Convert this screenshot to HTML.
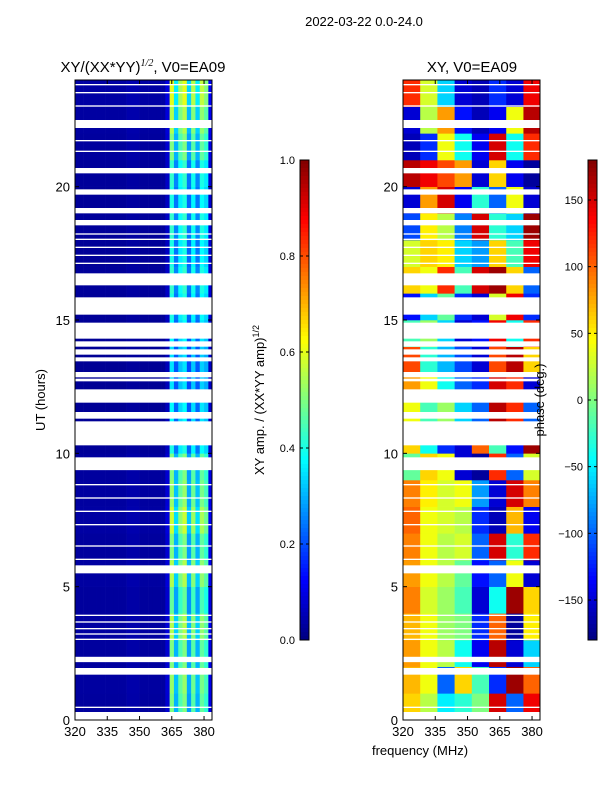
<!DOCTYPE html>
<html><head><meta charset="utf-8">
<style>
body{margin:0;background:#fff;}
svg{display:block;font-family:"Liberation Sans","DejaVu Sans",sans-serif;}
</style></head>
<body>
<svg id="fig" width="600" height="800" viewBox="0 0 600 800">
<rect width="600" height="800" fill="#fff"/>
<text x="364" y="26" font-size="13" text-anchor="middle">2022-03-22 0.0-24.0</text>
<text x="143" y="72" font-size="15" text-anchor="middle">XY/(XX*YY)<tspan font-size="10" dy="-6" font-family="Liberation Serif, serif" font-style="italic">1/2</tspan><tspan dy="6">, V0=EA09</tspan></text>
<text x="472" y="72" font-size="15" text-anchor="middle">XY, V0=EA09</text>
<text transform="translate(45,400) rotate(-90)" font-size="13" text-anchor="middle">UT (hours)</text>
<text transform="translate(264,400) rotate(-90)" font-size="13" text-anchor="middle">XY amp. / (XX*YY amp)<tspan font-size="9" dy="-5">1/2</tspan></text>
<g id="ampPanel"></g>
<g id="phasePanel"></g>
<g id="cbars"></g>
<text transform="translate(544,400) rotate(-90)" font-size="13" text-anchor="middle">phase (deg.)</text>
<text x="420" y="755" font-size="13" text-anchor="middle">frequency (MHz)</text>
</svg>
<script>
const hours = [0,1,2,3,4,5,6,7,8,9,10,11,12,13,14,15,16,17,18,19,20,21,22,23];
const ampFreqBins = [320,322,324,326,328,330,332,334,336,338,340,342,344,346,348,350,352,354,356,358,360,362,364,366,368,370,372,374,376,378,380,382];
const ampProfile = [0.03,0.03,0.03,0.03,0.03,0.03,0.03,0.03,0.03,0.03,0.03,0.03,0.04,0.04,0.04,0.03,0.03,0.03,0.03,0.03,0.03,0.08,0.5,0.3,0.45,0.5,0.28,0.46,0.3,0.47,0.42,0.1];
const ampRowScale = [1.0,1.05,1.0,1.1,0.95,1.1,1.0,1.15,1.05,1.0,0.8,0.75,0.7,0.7,0.75,0.8,0.85,0.8,0.85,0.8,0.85,1.0,1.1,1.2];
const phaseFreqBins = [320,328,336,344,352,360,368,376];
const phaseGrid = [
[60,20,-50,-30,0,150,-100,140],
[70,40,-100,60,-20,-120,170,100],
[80,40,20,-40,-140,160,-150,-60],
[70,40,10,0,-120,100,-170,50],
[90,30,10,-20,-150,-40,170,60],
[80,40,20,-10,-130,-100,40,-150],
[90,40,20,30,-100,150,-30,120],
[100,40,30,20,-120,-160,70,-140],
[90,50,30,40,-80,-150,150,90],
[-10,60,40,-150,-170,120,-100,30],
[60,-40,-120,-150,100,-20,-130,170],
[40,-20,10,-60,-100,160,120,-100],
[80,40,-40,-100,-120,150,120,-150],
[110,-30,-70,-110,-150,110,160,60],
[-20,10,-60,-150,-130,140,-40,120],
[-130,-60,-10,-120,-150,30,140,-120],
[60,40,120,-20,150,170,60,-100],
[30,60,50,-60,-80,60,-20,140],
[-110,50,20,-90,150,-30,-60,170],
[-150,80,150,-140,-30,-100,40,-150],
[160,140,110,80,-150,60,-140,-170],
[-160,-120,40,-40,-140,150,-40,120],
[-150,20,80,-130,-160,-140,40,160],
[120,30,-60,-150,-160,-120,-150,140]];
const gapStart = [0,0.45,1.7,2.17,3.0,3.2,3.4,3.65,3.9,5.5,9.37,10.3,11.3,11.9,12.7,12.85,13.45,13.7,14.0,14.3,15.2,16.3,18.55,19.0,19.7,20.5,22.2,6.0,6.5,7.3,7.8,8.3,8.8,17.1,17.4,17.7,18.0,18.2,21.3,21.7,23.0,23.5,23.8];
const gapEnd   = [0.3,0.5,1.95,2.37,3.05,3.25,3.45,3.7,3.95,5.8,9.85,11.2,11.55,12.4,12.8,13.05,13.6,13.9,14.2,14.9,15.85,16.75,18.75,19.2,19.9,20.7,22.5,6.05,6.55,7.35,7.85,8.35,8.85,17.15,17.45,17.75,18.05,18.25,21.35,21.75,23.05,23.55,23.85];
const yTicks = [0,5,10,15,20];
const xTicks = [320,335,350,365,380];
const ampCbTicks = [0.0,0.2,0.4,0.6,0.8,1.0];
const phaseCbTicks = [-150,-100,-50,0,50,100,150];

const NS="http://www.w3.org/2000/svg";
const Y0=720,Y1=80,FMIN=320,FMAX=383.7;
const yS=h=>Y0-(h/24)*(Y0-Y1);
function jet(v){v=Math.max(0,Math.min(1,v));
 const r=Math.max(0,Math.min(1,1.5-Math.abs(4*v-3))),g=Math.max(0,Math.min(1,1.5-Math.abs(4*v-2))),b=Math.max(0,Math.min(1,1.5-Math.abs(4*v-1)));
 return `rgb(${Math.round(r*255)},${Math.round(g*255)},${Math.round(b*255)})`;}
function mk(p,tag,attrs){const e=document.createElementNS(NS,tag);for(const k in attrs)e.setAttribute(k,attrs[k]);p.appendChild(e);return e;}
function panel(g,X0,X1,drawCells){
 const xS=f=>X0+(f-FMIN)/(FMAX-FMIN)*(X1-X0);
 drawCells(xS);
 for(let i=0;i<gapStart.length;i++){
  const r=mk(g,'rect',{x:X0,y:yS(gapEnd[i]),width:X1-X0,height:yS(gapStart[i])-yS(gapEnd[i]),fill:'#fff'});
  
  
 }
 mk(g,'rect',{x:X0,y:Y1,width:X1-X0,height:Y0-Y1,fill:'none',stroke:'#000','stroke-width':1});
 yTicks.forEach(t=>{const y=yS(t);
  mk(g,'line',{x1:X0,x2:X0+4,y1:y,y2:y,stroke:'#000'});mk(g,'line',{x1:X1,x2:X1-4,y1:y,y2:y,stroke:'#000'});
  const tx=mk(g,'text',{x:X0-5,y:y+5,'font-size':13,'text-anchor':'end'});tx.textContent=t;
  
  });
 xTicks.forEach(t=>{const x=xS(t);
  mk(g,'line',{x1:x,x2:x,y1:Y0,y2:Y0-4,stroke:'#000'});mk(g,'line',{x1:x,x2:x,y1:Y1,y2:Y1+4,stroke:'#000'});
  const tx=mk(g,'text',{x:x,y:Y0+16,'font-size':13,'text-anchor':'middle'});tx.textContent=t;
  
  });
}
const ampG=document.getElementById('ampPanel');
panel(ampG,75,212,xS=>{
 hours.forEach((h,i)=>ampFreqBins.forEach((f,j)=>{
  const f2=j+1<ampFreqBins.length?ampFreqBins[j+1]:FMAX;
  const c=mk(ampG,'rect',{x:xS(f),y:yS(h+1),width:xS(f2)-xS(f)+0.3,height:yS(h)-yS(h+1)+0.3,fill:jet(ampProfile[j]*ampRowScale[i])});
  
  
 }));
});
const phG=document.getElementById('phasePanel');
panel(phG,403,540,xS=>{
 hours.forEach((h,i)=>phaseFreqBins.forEach((f,j)=>{
  const f2=j+1<phaseFreqBins.length?phaseFreqBins[j+1]:FMAX;
  const c=mk(phG,'rect',{x:xS(f),y:yS(h+1),width:xS(f2)-xS(f)+0.3,height:yS(h)-yS(h+1)+0.3,fill:jet((phaseGrid[i][j]+180)/360)});
  
  
 }));
});
const cb=document.getElementById('cbars');
function colorbar(x,w,vmin,vmax,ticks,fmt,name){
 const g=mk(cb,'g',{});
 
 
 for(let k=0;k<120;k++){const y=160+k*4;mk(g,'rect',{x:x,y:y,width:w,height:4.3,fill:jet(1-(k+0.5)/120)});}
 mk(g,'rect',{x:x,y:160,width:w,height:480,fill:'none',stroke:'#000'});
 ticks.forEach(t=>{const y=640-(t-vmin)/(vmax-vmin)*480;
  mk(g,'line',{x1:x,x2:x+3,y1:y,y2:y,stroke:'#000'});mk(g,'line',{x1:x+w,x2:x+w-3,y1:y,y2:y,stroke:'#000'});
  const tx=mk(g,'text',{x:x-5,y:y+4,'font-size':11,'text-anchor':'end'});tx.textContent=fmt(t);
  
  });
}
colorbar(300,9,0,1,ampCbTicks,t=>t.toFixed(1),'amp-colorbar');
colorbar(588,9,-180,180,phaseCbTicks,t=>t<0?'\u2212'+(-t):String(t),'phase-colorbar');
</script>
</body></html>
